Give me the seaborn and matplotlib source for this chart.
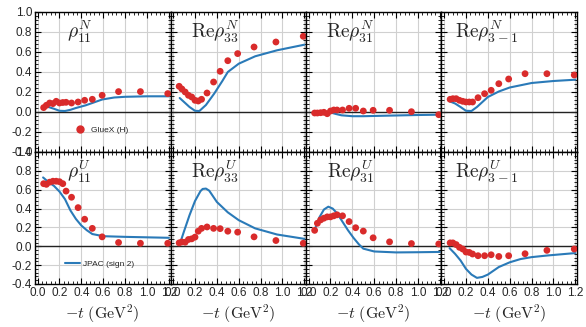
import numpy as np
import pandas as pd
import matplotlib
matplotlib.use("Agg")
import matplotlib.pyplot as plt
import seaborn as sns
from matplotlib.ticker import MultipleLocator, FormatStrFormatter
from matplotlib.lines import Line2D

# --- DATA ---
# GlueX -t bins (GeV^2), shared by all panels
t_data = [0.055, 0.08, 0.11, 0.14, 0.17, 0.20, 0.23, 0.26, 0.31, 0.37, 0.43, 0.50, 0.59, 0.74, 0.94, 1.19]

# GlueX (H) points, natural parity (N) row
rho11_N = [0.044, 0.067, 0.090, 0.084, 0.107, 0.090, 0.095, 0.097, 0.090, 0.100, 0.117, 0.127, 0.167, 0.204, 0.204, 0.184]
rho33_N = [0.257, 0.230, 0.200, 0.167, 0.150, 0.117, 0.110, 0.127, 0.190, 0.300, 0.407, 0.513, 0.584, 0.650, 0.700, 0.757]
rho31_N = [-0.010, -0.010, -0.007, -0.003, -0.017, 0.010, 0.020, 0.020, 0.020, 0.037, 0.037, 0.010, 0.017, 0.017, 0.003, -0.027]
rho3m1_N = [0.127, 0.133, 0.133, 0.117, 0.107, 0.100, 0.100, 0.100, 0.143, 0.183, 0.217, 0.283, 0.330, 0.383, 0.383, 0.370]

# GlueX (H) points, unnatural parity (U) row
rho11_U = [0.664, 0.657, 0.680, 0.690, 0.690, 0.685, 0.664, 0.585, 0.520, 0.410, 0.287, 0.190, 0.100, 0.040, 0.032, 0.032]
rho33_U = [0.036, 0.046, 0.043, 0.072, 0.079, 0.097, 0.160, 0.190, 0.205, 0.190, 0.187, 0.160, 0.150, 0.100, 0.061, 0.032]
rho31_U = [0.169, 0.244, 0.280, 0.298, 0.312, 0.312, 0.323, 0.334, 0.323, 0.262, 0.197, 0.161, 0.090, 0.047, 0.029, 0.025]
rho3m1_U = [0.036, 0.036, 0.018, -0.011, -0.029, -0.061, -0.065, -0.082, -0.100, -0.100, -0.090, -0.108, -0.100, -0.079, -0.043, -0.029]

# JPAC (sign 2) model curves
jp11_N_t = [0.06, 0.10, 0.15, 0.20, 0.25, 0.30, 0.35, 0.44, 0.50, 0.59, 0.70, 0.80, 1.00, 1.20]
jp11_N = [0.050, 0.050, 0.032, 0.012, 0.010, 0.022, 0.040, 0.067, 0.090, 0.125, 0.145, 0.152, 0.157, 0.157]
jp33_N_t = [0.06, 0.10, 0.15, 0.20, 0.24, 0.30, 0.375, 0.45, 0.50, 0.60, 0.75, 0.95, 1.20]
jp33_N = [0.140, 0.100, 0.050, 0.012, 0.010, 0.070, 0.183, 0.310, 0.400, 0.483, 0.557, 0.617, 0.673]
jp31_N_t = [0.05, 0.15, 0.20, 0.25, 0.30, 0.40, 0.50, 0.70, 1.00, 1.20]
jp31_N = [-0.005, -0.003, -0.005, -0.020, -0.033, -0.042, -0.042, -0.037, -0.030, -0.027]
jp3m1_N_t = [0.05, 0.10, 0.15, 0.20, 0.25, 0.30, 0.40, 0.50, 0.60, 0.80, 1.00, 1.20]
jp3m1_N = [0.107, 0.085, 0.050, 0.012, 0.010, 0.050, 0.150, 0.205, 0.245, 0.290, 0.310, 0.323]

jp11_U_t = [0.05, 0.10, 0.15, 0.20, 0.25, 0.30, 0.35, 0.40, 0.45, 0.50, 0.60, 0.80, 1.00, 1.20]
jp11_U = [0.730, 0.680, 0.640, 0.580, 0.500, 0.380, 0.290, 0.220, 0.170, 0.130, 0.107, 0.100, 0.095, 0.090]
jp33_U_t = [0.06, 0.10, 0.15, 0.20, 0.25, 0.27, 0.30, 0.33, 0.40, 0.50, 0.60, 0.75, 0.95, 1.20]
jp33_U = [0.020, 0.160, 0.330, 0.480, 0.585, 0.608, 0.612, 0.590, 0.470, 0.360, 0.277, 0.190, 0.125, 0.079]
jp31_U_t = [0.06, 0.10, 0.14, 0.18, 0.22, 0.26, 0.31, 0.36, 0.41, 0.46, 0.50, 0.60, 0.80, 1.00, 1.20]
jp31_U = [0.190, 0.310, 0.390, 0.420, 0.400, 0.350, 0.260, 0.170, 0.090, 0.020, -0.025, -0.055, -0.065, -0.063, -0.060]
jp3m1_U_t = [0.05, 0.10, 0.15, 0.20, 0.25, 0.30, 0.35, 0.40, 0.50, 0.60, 0.70, 0.80, 0.95, 1.20]
jp3m1_U = [-0.020, -0.080, -0.150, -0.240, -0.300, -0.335, -0.325, -0.300, -0.220, -0.170, -0.135, -0.115, -0.097, -0.072]

titles = [r"$\rho^{N}_{11}$", r"$\mathrm{Re}\rho^{N}_{33}$", r"$\mathrm{Re}\rho^{N}_{31}$", r"$\mathrm{Re}\rho^{N}_{3-1}$",
          r"$\rho^{U}_{11}$", r"$\mathrm{Re}\rho^{U}_{33}$", r"$\mathrm{Re}\rho^{U}_{31}$", r"$\mathrm{Re}\rho^{U}_{3-1}$"]

points = [rho11_N, rho33_N, rho31_N, rho3m1_N, rho11_U, rho33_U, rho31_U, rho3m1_U]
curves = [(jp11_N_t, jp11_N), (jp33_N_t, jp33_N), (jp31_N_t, jp31_N), (jp3m1_N_t, jp3m1_N),
          (jp11_U_t, jp11_U), (jp33_U_t, jp33_U), (jp31_U_t, jp31_U), (jp3m1_U_t, jp3m1_U)]

RED = "#d92b2b"
BLUE = "#2a7ab8"

# --- STYLE ---
sns.set_theme(style="ticks")
plt.rcParams["font.family"] = ["Liberation Sans", "DejaVu Sans"]
plt.rcParams["mathtext.fontset"] = "cm"

fig = plt.figure(figsize=(5.86, 3.27), dpi=100)
gs = fig.add_gridspec(2, 4, left=35 / 586, right=577 / 586, top=1 - 12 / 327, bottom=1 - 284 / 327,
                      height_ratios=[140, 132], hspace=0, wspace=0)

for i in range(8):
    row, col = divmod(i, 4)
    ax = fig.add_subplot(gs[row, col])
    ax.set_facecolor("white")
    ax.grid(True, which="major", color="#d0d0d0", lw=0.8)
    ax.set_axisbelow(True)
    ax.axhline(0, color="#222222", lw=1.0, zorder=1)

    df_pts = pd.DataFrame({"t": t_data, "v": points[i]})
    ct, cv = curves[i]
    df_crv = pd.DataFrame({"t": ct, "v": cv})
    sns.lineplot(data=df_crv, x="t", y="v", ax=ax, color=BLUE, lw=1.5, zorder=2)
    sns.scatterplot(data=df_pts, x="t", y="v", ax=ax, color=RED, s=24, edgecolor="none", zorder=3)

    ax.set_xlim(-0.024, 1.215)
    ax.set_ylim(-0.4, 1.0)
    ax.xaxis.set_major_locator(MultipleLocator(0.2))
    ax.xaxis.set_minor_locator(MultipleLocator(0.04))
    ax.yaxis.set_major_locator(MultipleLocator(0.2))
    ax.yaxis.set_minor_locator(MultipleLocator(0.04))
    ax.xaxis.set_major_formatter(FormatStrFormatter("%.1f"))
    ax.yaxis.set_major_formatter(FormatStrFormatter("%.1f"))
    ax.tick_params(which="both", direction="in", top=True, right=True, color="black",
                   labelsize=8.5, pad=2)
    ax.tick_params(which="major", length=4, width=0.8)
    ax.tick_params(which="minor", length=2, width=0.6)
    for sp in ax.spines.values():
        sp.set_color("black")
        sp.set_linewidth(1.0)

    ax.set_xlabel("")
    ax.set_ylabel("")
    if col != 0:
        ax.tick_params(labelleft=False)
    if row == 0:
        ax.tick_params(labelbottom=False)
    else:
        ax.set_xlabel(r"$-t\ (\mathrm{GeV}^2)$", fontsize=11.5, labelpad=3)

    ax.text(0.33, 0.815 if row == 0 else 0.805, titles[i], transform=ax.transAxes,
            ha="center", va="baseline", fontsize=14)

    if i == 0:
        h = Line2D([], [], ls="none", marker="o", color=RED, markersize=5)
        ax.legend([h], ["GlueX (H)"], loc="center left", bbox_to_anchor=(0.245, 0.155),
                  frameon=False, fontsize=6, handletextpad=0.3, borderaxespad=0)
    if i == 4:
        h = Line2D([], [], color=BLUE, lw=1.5)
        ax.legend([h], ["JPAC (sign 2)"], loc="center left", bbox_to_anchor=(0.2, 0.15),
                  frameon=False, fontsize=6, handlelength=1.7, handletextpad=0.4, borderaxespad=0)

fig.savefig("out.png", dpi=100)
plt.close(fig)
